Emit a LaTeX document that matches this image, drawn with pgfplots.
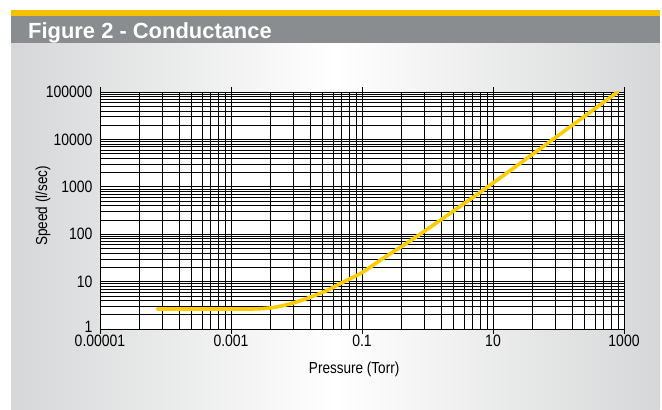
\documentclass[border=0pt]{standalone}
\usepackage{fontspec}
\setmainfont{Liberation Sans}[FakeStretch=0.85]
\newfontfamily\titlefont{Liberation Sans}[FakeStretch=1.0]
\usepackage{pgfplots}
\pgfplotsset{compat=1.18}
\definecolor{titlegray}{HTML}{8A8D8F}
\definecolor{topyellow}{HTML}{F5C000}
\definecolor{curveyellow}{HTML}{FFCC00}
\definecolor{panelgray}{HTML}{D6D7D8}
\begin{document}
\begin{tikzpicture}[x=1bp,y=1bp]
\fill[white] (0,0) rectangle (662,409);
\shade[left color=panelgray, right color=panelgray, middle color=white] (11,0) rectangle (660,366);
\fill[titlegray] (11,366) rectangle (660,393);
\fill[topyellow] (11,393) rectangle (660,399);
\node[anchor=base west, text=white, inner sep=0pt, font=\titlefont\bfseries\fontsize{22}{24}\selectfont] at (28,371) {Figure 2 - Conductance};
\begin{axis}[
  at={(100bp,80bp)}, anchor=south west,
  width=524bp, height=237bp, scale only axis,
  xmode=log, ymode=log,
  xmin=1e-5, xmax=1000, ymin=1, ymax=100000,
  xtick={1e-5,1e-3,0.1,10,1000},
  xticklabels={0.00001,0.001,0.1,10,1000},
  ytick={1,10,100,1000,10000,100000},
  yticklabels={\raisebox{5bp}{1},10,100,1000,10000,100000},
  minor xtick={4e-5,9e-5,1.6e-4,2.5e-4,3.6e-4,4.9e-4,6.4e-4,8.1e-4,
    4e-3,9e-3,1.6e-2,2.5e-2,3.6e-2,4.9e-2,6.4e-2,8.1e-2,
    0.4,0.9,1.6,2.5,3.6,4.9,6.4,8.1,
    40,90,160,250,360,490,640,810},
  minor ytick={2,3,4,5,6,7,8,9,20,30,40,50,60,70,80,90,
    200,300,400,500,600,700,800,900,2000,3000,4000,5000,6000,7000,8000,9000,
    20000,30000,40000,50000,60000,70000,80000,90000},
  grid=both,
  major grid style={black, line width=0.7bp},
  minor grid style={black, line width=0.6bp},
  axis line style={black, line width=0.8bp},
  xtick style={black, line width=0.7bp},
  ytick style={draw=none},
  tick align=outside, major tick length=5bp, minor tick length=0pt,
  axis background/.style={fill=white},
  ticklabel style={font=\fontsize{16.5}{18}\selectfont},
  xticklabel style={yshift=2bp},
  yticklabel style={xshift=1bp},
  label style={font=\fontsize{16}{18}\selectfont},
  xlabel={Pressure (Torr)},
  ylabel={Speed (l/sec)},
  xlabel style={at={(axis description cs:0.485,-0.169)}, anchor=center},
  ylabel style={at={(axis description cs:-0.109,0.52)}, anchor=center},
]
\addplot[curveyellow, line width=3.6bp, smooth, line cap=round] coordinates {
 (7.5e-5,2.64) (0.0003,2.64) (0.001,2.64) (0.0025,2.66) (0.0045,2.85)
 (0.008,3.4) (0.015,4.5) (0.03,6.6) (0.046,9.0) (0.1,15.5) (0.188,28)
 (0.5,67) (1,128) (3,370) (10,1200) (100,12200) (800,100000)
};
\end{axis}
\end{tikzpicture}
\end{document}
